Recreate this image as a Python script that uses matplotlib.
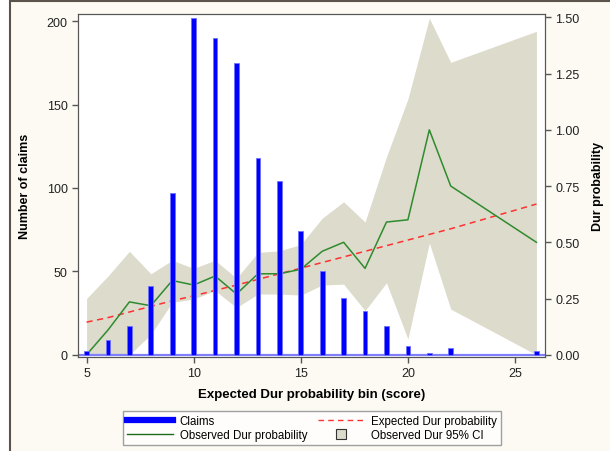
import matplotlib
matplotlib.use("Agg")
import matplotlib.pyplot as plt
from matplotlib.patches import Rectangle
from matplotlib.lines import Line2D

plt.rcParams['font.family'] = ['Liberation Sans', 'DejaVu Sans']

# score bins (23-25 have no claims)
bins = [5, 6, 7, 8, 9, 10, 11, 12, 13, 14, 15, 16, 17, 18, 19, 20, 21, 22, 26]
claims = [2, 9, 17, 41, 97, 202, 190, 175, 118, 104, 74, 50, 34, 26, 17, 5, 1, 4, 2]
observed = [0.0, 0.11, 0.235, 0.218, 0.33, 0.31, 0.35, 0.27, 0.36, 0.36, 0.38,
            0.46, 0.50, 0.384, 0.59, 0.60, 1.00, 0.75, 0.50]
expected = [0.145, 0.165, 0.19, 0.215, 0.24, 0.262, 0.286, 0.31, 0.335, 0.36, 0.385,
            0.41, 0.435, 0.46, 0.485, 0.51, 0.535, 0.56, 0.67]
ci_upper = [0.25, 0.35, 0.46, 0.36, 0.42, 0.384, 0.42, 0.34, 0.455, 0.462, 0.49,
            0.607, 0.68, 0.59, 0.88, 1.137, 1.496, 1.30, 1.438]
ci_lower = [0.0, 0.0, 0.0, 0.09, 0.233, 0.248, 0.285, 0.21, 0.27, 0.27, 0.265,
            0.31, 0.314, 0.196, 0.32, 0.07, 0.497, 0.203, 0.0]

fig = plt.figure(figsize=(6.10, 4.52), dpi=100, facecolor='white')
fig.patches.append(Rectangle((10 / 610, -0.01), 1.0, 1.01 - 2 / 452, transform=fig.transFigure,
                             facecolor='#fdfaf3', edgecolor='#5a544c', lw=1.5, zorder=-10))

ax1 = fig.add_axes([78 / 610, 1 - 358 / 452, (545 - 78) / 610, (358 - 15) / 452])
ax2 = ax1.twinx()
ax1.set_zorder(ax2.get_zorder() + 1)
ax1.patch.set_visible(False)
ax2.patch.set_visible(True)
ax2.patch.set_facecolor('white')

band_col = '#dddbcb'
green = '#2e8b2e'
red = '#ff3030'

ax2.fill_between(bins, ci_lower, ci_upper, color=band_col, lw=0)
ax2.plot(bins, expected, color=red, lw=1.1, ls=(0, (4, 3)))
ax2.plot(bins, observed, color=green, lw=1.1)

ax1.axhline(0, color='#8080ff', lw=1.6, zorder=1)
ax1.bar(bins, claims, width=0.22, color='#0000ff', edgecolor='#7070ff', lw=0.6, zorder=2)

ax1.set_xlim(4.6, 26.4)
ax1.set_ylim(-1.4, 204.3)
ax2.set_ylim(-0.01, 1.515)
ax1.set_xticks([5, 10, 15, 20, 25])
ax1.set_yticks([0, 50, 100, 150, 200])
ax2.set_yticks([0, 0.25, 0.5, 0.75, 1.0, 1.25, 1.5])
ax2.set_yticklabels(['%.2f' % v for v in [0, 0.25, 0.5, 0.75, 1.0, 1.25, 1.5]])

for ax in (ax1, ax2):
    for s in ax.spines.values():
        s.set_color('#555555')
    ax.tick_params(colors='#555555', labelcolor='#222222', labelsize=9, length=4, width=1)

ax1.set_xlabel('Expected Dur probability bin (score)', fontsize=9.5, fontweight='bold', labelpad=6)
ax1.set_ylabel('Number of claims', fontsize=9, fontweight='bold', labelpad=11)
ax2.set_ylabel('Dur probability', fontsize=9, fontweight='bold', labelpad=9)

handles = [
    Line2D([], [], color='#0000ff', lw=4.5),
    Line2D([], [], color='#1a6b1a', lw=1),
    Line2D([], [], color=red, lw=1, ls=(0, (4, 3))),
    Line2D([], [], ls='none', marker='s', markersize=7, markerfacecolor=band_col,
           markeredgecolor='#333333', markeredgewidth=0.8),
]
labels = ['Claims', 'Observed Dur probability', 'Expected Dur probability', 'Observed Dur 95% CI']
leg = fig.legend(handles, labels, ncol=2, loc='center', bbox_to_anchor=(0.511, 0.051),
                 fontsize=8.3, frameon=True, fancybox=False, handlelength=4.0,
                 columnspacing=0.9, labelspacing=0.2, handletextpad=0.6,
                 borderpad=0.35, edgecolor='#888888')
leg.get_frame().set_linewidth(1.0)

fig.savefig('out.png', dpi=100, facecolor=fig.get_facecolor())
